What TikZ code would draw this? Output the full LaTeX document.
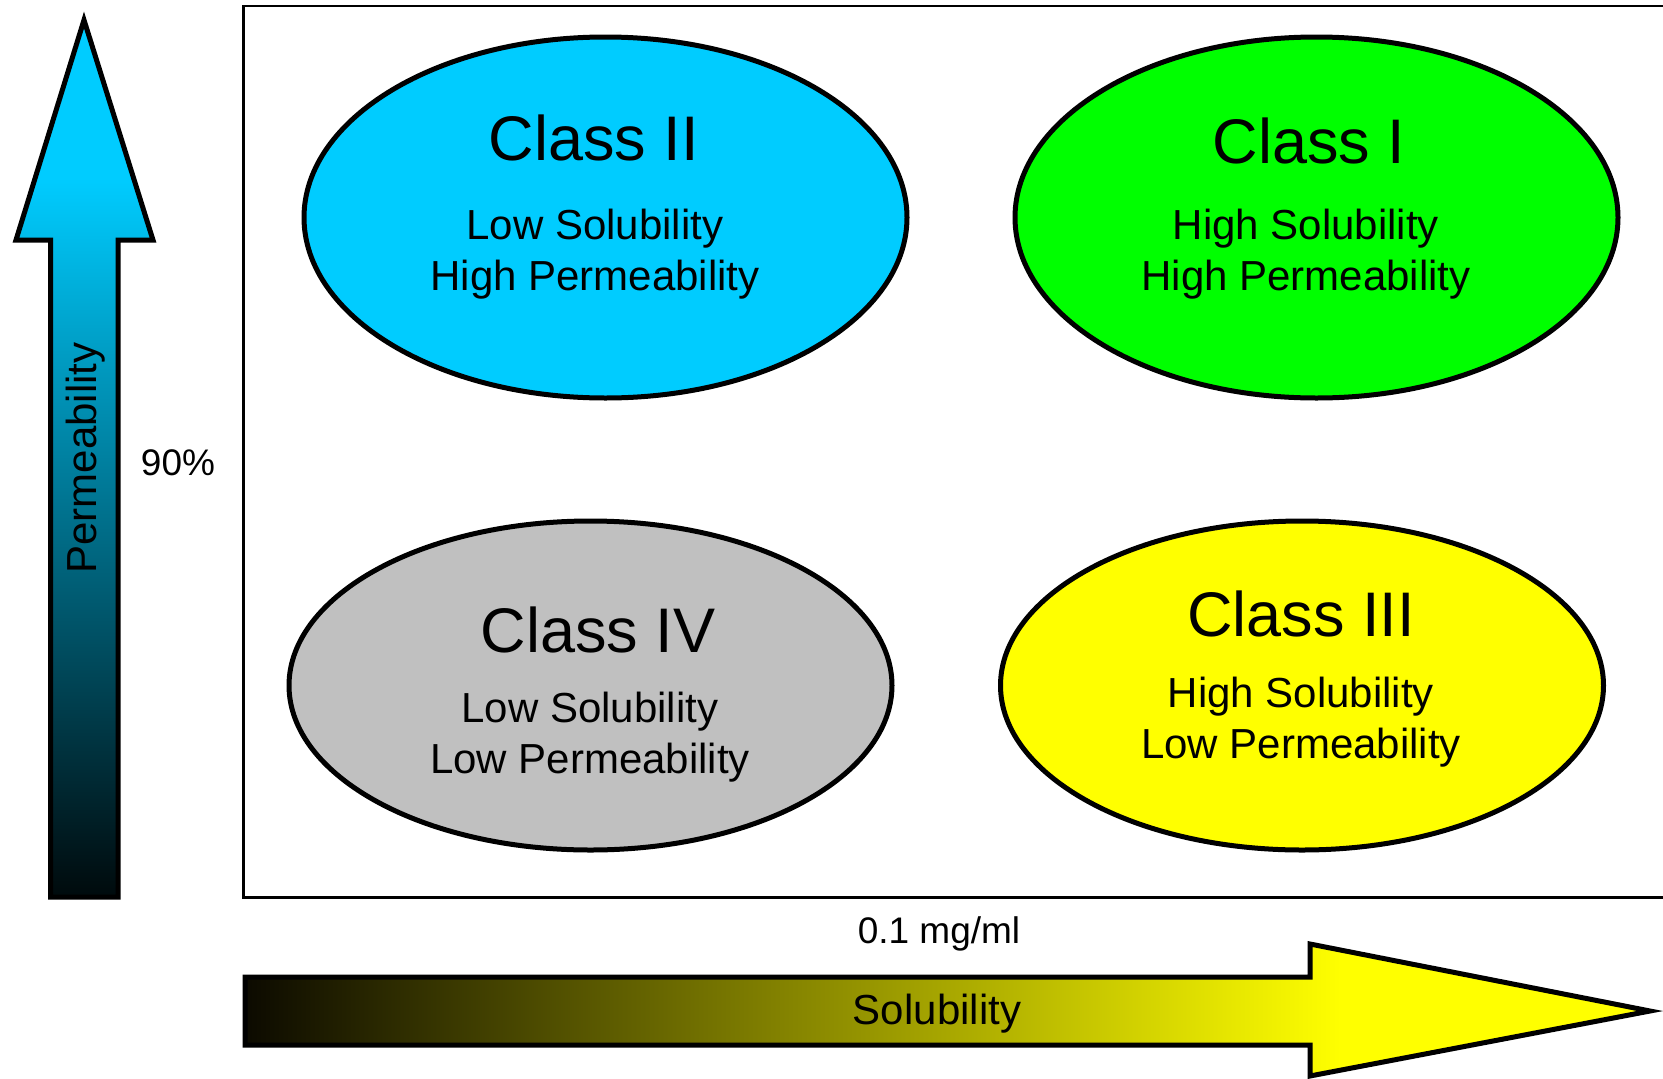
\documentclass[tikz,border=0pt]{standalone}
\usepackage{fontspec}
\setmainfont{Liberation Sans}
\usetikzlibrary{shapes.geometric}
\definecolor{cyanA}{RGB}{0,204,255}
\definecolor{cyanDark}{RGB}{0,10,12}
\definecolor{greenA}{RGB}{0,255,0}
\definecolor{greyA}{RGB}{192,192,192}
\definecolor{yellowA}{RGB}{255,255,0}
\definecolor{yellowDark}{RGB}{12,10,0}
\pgfdeclarehorizontalshading{solshade}{100bp}{color(0bp)=(yellowDark); color(25bp)=(yellowDark); color(64bp)=(yellowA); color(100bp)=(yellowA)}
\pgfdeclareverticalshading{permshade}{100bp}{color(0bp)=(cyanDark); color(25bp)=(cyanDark); color(66bp)=(cyanA); color(100bp)=(cyanA)}
\begin{document}
\begin{tikzpicture}[x=1pt,y=-1pt,
  ell/.style={ellipse, draw=black, line width=5pt, inner sep=0pt, minimum width=603pt},
  classtitle/.style={font=\fontsize{63}{70}\selectfont, inner sep=0pt},
  classsub/.style={font=\fontsize{42}{51}\selectfont, align=center, inner sep=0pt},
  axislab/.style={font=\fontsize{42}{50}\selectfont, inner sep=0pt},
  threshlab/.style={font=\fontsize{37}{44}\selectfont, inner sep=0pt},
  bigarrow/.style={draw=black, line width=5pt, line join=miter}]
\useasboundingbox (0,0) rectangle (1663,1079);
\clip (0,0) rectangle (1663,1079);
% frame
\draw[line width=2.5pt] (1675,6) -| (243.5,897.5) -- (1675,897.5);
% permeability arrow
\shadedraw[bigarrow, shading=permshade]
  (84,20) -- (153,240) -- (118,240) -- (118,897) -- (50.5,897) -- (50.5,240) -- (16,240) -- cycle;
\node[axislab, rotate=90] (perm) at (86,458) {Permeability};
\node[threshlab] (p90) at (178,463) {90\%};
% solubility arrow
\shadedraw[bigarrow, shading=solshade]
  (245,977) -- (1310,977) -- (1310,944) -- (1650,1011) -- (1310,1076) -- (1310,1045) -- (245,1045) -- cycle;
\node[axislab] (sol) at (937,1014) {Solubility};
\node[threshlab] (s01) at (939,934) {0.1 mg/ml};
% classes
\node[ell, fill=cyanA, minimum height=361pt] (c2) at (605.5,217.5) {};
\node[ell, fill=greenA, minimum height=361pt] (c1) at (1316.5,217.5) {};
\node[ell, fill=greyA, minimum height=329pt] (c4) at (590.5,685.5) {};
\node[ell, fill=yellowA, minimum height=329pt] (c3) at (1302,685.5) {};
\node[classtitle] (t2) at (594,138) {Class II};
\node[classsub] (s2) at (595,254) {Low Solubility\\High Permeability};
\node[classtitle] (t1) at (1309,141) {Class I};
\node[classsub] (s1) at (1306,254) {High Solubility\\High Permeability};
\node[classtitle] (t4) at (598,630) {Class IV};
\node[classsub] (s4) at (590,737) {Low Solubility\\Low Permeability};
\node[classtitle] (t3) at (1301,614) {Class III};
\node[classsub] (s3) at (1301,722.5) {High Solubility\\Low Permeability};
\end{tikzpicture}
\end{document}
